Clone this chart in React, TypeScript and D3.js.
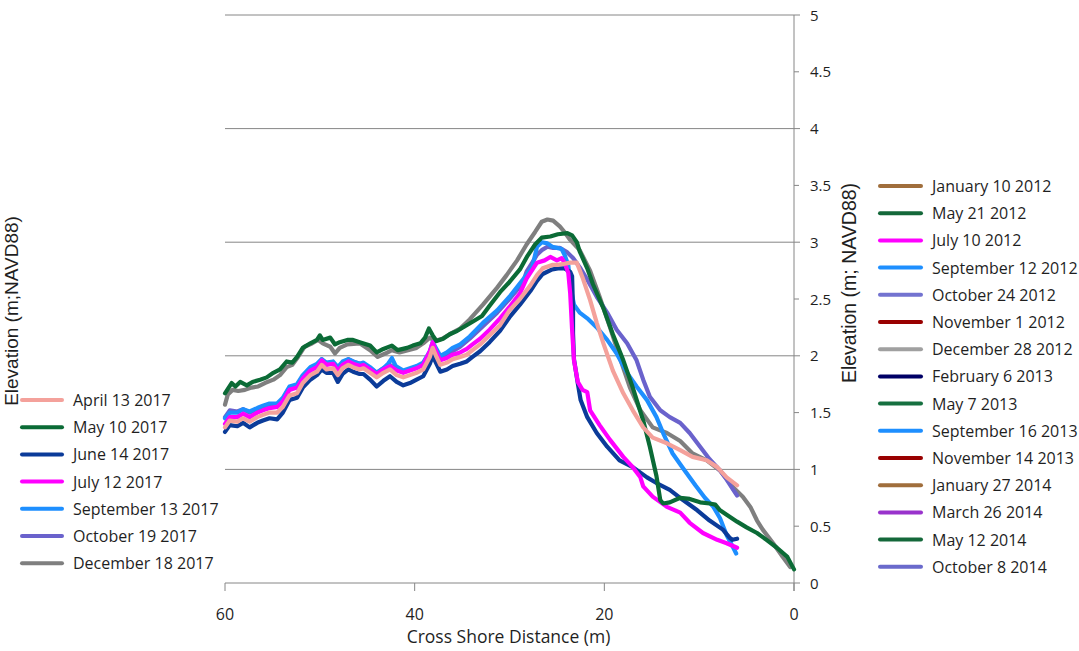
import React from "react";
import * as d3 from "d3";

// ---- Data (distance m, elevation m NAVD88) ----
const apr13_2017: [number, number][] = [[60,1.37],[59.5,1.43],[58.7,1.42],[58.1,1.45],[57.4,1.42],[56.6,1.46],[56,1.48],[55.3,1.5],[54.5,1.5],[53.9,1.55],[53.2,1.65],[52.4,1.67],[51.8,1.76],[51,1.83],[50.3,1.86],[49.8,1.92],[49.3,1.88],[48.6,1.89],[48.1,1.83],[47.6,1.89],[47,1.92],[46.5,1.9],[45.8,1.88],[45.4,1.89],[44.7,1.85],[44,1.81],[43.3,1.85],[42.6,1.88],[41.9,1.83],[41.2,1.81],[40.5,1.83],[39.8,1.85],[39.1,1.88],[38.4,1.99],[38.1,2.07],[37.7,1.99],[37.3,1.92],[36.6,1.94],[36,1.97],[35.2,1.99],[34.5,2.01],[33.9,2.05],[33.1,2.1],[32.1,2.18],[31,2.27],[30,2.4],[28.9,2.5],[27.8,2.62],[27.1,2.71],[26.5,2.77],[25.5,2.8],[24.9,2.8],[24.2,2.81],[23.6,2.82],[22.9,2.82],[22.3,2.69],[21.5,2.49],[20.8,2.29],[20.1,2.11],[19.1,1.87],[18,1.67],[17,1.52],[15.9,1.37],[14.9,1.28],[13.4,1.23],[12,1.17],[10.7,1.11],[9.2,1.08],[8.1,1.02],[7.1,0.93],[6,0.86]];

const may10_2017: [number, number][] = [[60,1.67],[59.3,1.76],[58.9,1.73],[58.4,1.77],[57.7,1.74],[57.1,1.77],[56.3,1.79],[55.6,1.81],[54.9,1.85],[54.2,1.88],[53.5,1.95],[52.9,1.94],[52.4,1.99],[51.8,2.07],[51,2.11],[50.3,2.14],[50,2.18],[49.7,2.14],[48.9,2.16],[48.4,2.1],[47.9,2.12],[47.1,2.14],[46.5,2.14],[45.8,2.12],[44.7,2.09],[44,2.03],[43.3,2.06],[42.4,2.09],[41.8,2.05],[40.8,2.07],[40.2,2.09],[39.4,2.11],[38.9,2.16],[38.5,2.24],[38.1,2.18],[37.7,2.13],[37,2.15],[36.3,2.19],[35.5,2.22],[34.7,2.26],[33.9,2.3],[32.9,2.35],[32.1,2.44],[31,2.56],[30,2.65],[28.9,2.76],[28.1,2.88],[27.3,2.98],[26.6,3.04],[25.7,3.05],[24.9,3.07],[23.9,3.08],[23.4,3.06],[22.9,3.0],[22.6,2.92],[21.8,2.77],[21.2,2.63],[20.1,2.42],[19.1,2.19],[18,1.96],[17,1.72],[15.9,1.43],[15.2,1.2],[14.5,0.94],[14.1,0.73],[13.8,0.7],[13.1,0.71],[12,0.75],[11,0.74],[9.9,0.71],[8.9,0.7],[8.3,0.69],[7.8,0.64],[7.1,0.6],[6,0.54],[5,0.49],[3.9,0.44],[2.9,0.38],[1.8,0.31],[0.7,0.23],[0,0.12]];

const jun14_2017: [number, number][] = [[60,1.33],[59.5,1.39],[58.7,1.38],[58.1,1.41],[57.4,1.37],[56.6,1.41],[56,1.43],[55.3,1.45],[54.5,1.44],[53.9,1.5],[53.2,1.61],[52.4,1.63],[51.8,1.72],[51,1.79],[50.3,1.83],[49.8,1.88],[49.3,1.85],[48.6,1.85],[48.1,1.77],[47.6,1.84],[47,1.88],[46.5,1.86],[45.8,1.84],[45.4,1.84],[44.7,1.79],[44,1.73],[43.3,1.78],[42.6,1.82],[41.9,1.77],[41.2,1.74],[40.5,1.76],[39.8,1.79],[39.1,1.82],[38.4,1.93],[38.1,2.0],[37.7,1.93],[37.3,1.86],[36.6,1.88],[36,1.91],[35.2,1.93],[34.5,1.95],[33.9,1.99],[33.1,2.04],[32.1,2.12],[31,2.22],[30,2.34],[28.9,2.45],[27.8,2.57],[27.1,2.66],[26.5,2.72],[25.5,2.76],[24.9,2.77],[24.2,2.77],[23.6,2.74],[23.4,2.7],[23.3,2.4],[23.3,2.2],[23.2,1.97],[22.8,1.76],[22.5,1.61],[21.8,1.46],[20.8,1.32],[19.7,1.2],[18.4,1.08],[17,1.02],[15.5,0.93],[14.5,0.88],[13.1,0.82],[11.7,0.73],[10.2,0.64],[8.9,0.55],[7.5,0.47],[6.8,0.4],[6.5,0.38],[6,0.39]];

const jul12_2017: [number, number][] = [[60,1.4],[59.5,1.46],[58.7,1.46],[58.1,1.49],[57.4,1.46],[56.6,1.5],[56,1.52],[55.3,1.54],[54.5,1.55],[53.9,1.6],[53.2,1.7],[52.4,1.72],[51.8,1.8],[51,1.87],[50.3,1.9],[49.8,1.96],[49.3,1.92],[48.6,1.93],[48.1,1.87],[47.6,1.92],[47,1.95],[46.5,1.93],[45.8,1.91],[45.4,1.92],[44.7,1.88],[44,1.84],[43.3,1.88],[42.6,1.91],[41.9,1.87],[41.2,1.85],[40.5,1.87],[39.8,1.89],[39.1,1.92],[38.4,2.04],[38.1,2.12],[37.7,2.03],[37.3,1.96],[36.6,1.98],[36,2.01],[35.2,2.03],[34.5,2.06],[33.9,2.1],[33.1,2.15],[32.1,2.23],[31,2.33],[30,2.43],[28.9,2.55],[28.2,2.68],[27.1,2.82],[26.3,2.84],[25.7,2.87],[25,2.84],[24.5,2.86],[24.2,2.82],[23.8,2.73],[23.6,2.55],[23.4,2.23],[23.2,1.96],[22.8,1.77],[22.3,1.7],[21.8,1.68],[21.5,1.52],[20.5,1.39],[19.4,1.26],[18,1.11],[17,1.02],[16.2,0.93],[15.9,0.85],[14.9,0.76],[13.4,0.67],[12,0.62],[11,0.53],[9.6,0.44],[8.1,0.38],[7.1,0.35],[6,0.31]];

const sep13_2017: [number, number][] = [[60,1.45],[59.5,1.5],[58.7,1.5],[58.1,1.53],[57.4,1.51],[56.6,1.54],[56,1.56],[55.3,1.58],[54.5,1.58],[53.9,1.63],[53.2,1.73],[52.4,1.75],[51.8,1.83],[51,1.9],[50.3,1.93],[49.8,1.97],[49.3,1.94],[48.6,1.95],[48.1,1.9],[47.6,1.95],[47,1.97],[46.5,1.95],[45.8,1.93],[45.4,1.94],[44.7,1.9],[44,1.85],[43.3,1.89],[42.8,1.93],[42.4,1.98],[42,1.91],[41.2,1.87],[40.5,1.89],[39.8,1.91],[39.1,1.94],[38.4,2.04],[38.1,2.12],[37.7,2.06],[37.3,2.0],[36.6,2.03],[36,2.07],[35.2,2.1],[34.2,2.17],[32.8,2.29],[31.3,2.4],[30,2.52],[28.6,2.67],[27.6,2.78],[27.1,2.96],[26.6,3.0],[26,2.99],[25.5,2.96],[25,2.95],[24.5,2.94],[24.2,2.89],[23.8,2.8],[23.6,2.62],[23.2,2.45],[22.6,2.38],[21.8,2.33],[20.8,2.25],[19.7,2.14],[18.7,2.02],[17.6,1.85],[16.6,1.73],[15.5,1.61],[14.5,1.46],[13.8,1.32],[12.8,1.14],[11.7,1.01],[10.4,0.86],[9.4,0.75],[8.5,0.67],[7.8,0.57],[7.1,0.42],[6.4,0.31],[6.1,0.26]];

const oct19_2017: [number, number][] = [[60,1.46],[59.5,1.52],[58.7,1.51],[58.1,1.53],[57.4,1.5],[56.6,1.53],[56,1.55],[55.3,1.57],[54.5,1.57],[53.9,1.62],[53.2,1.72],[52.4,1.74],[51.8,1.82],[51,1.89],[50.3,1.92],[49.8,1.97],[49.3,1.93],[48.6,1.94],[48.1,1.89],[47.6,1.94],[47,1.97],[46.5,1.95],[45.8,1.93],[45.4,1.93],[44.7,1.89],[44,1.85],[43.3,1.89],[42.6,1.92],[41.9,1.88],[41.2,1.86],[40.5,1.88],[39.8,1.9],[39.1,1.93],[38.4,2.03],[38.1,2.1],[37.7,2.03],[37.3,1.98],[36.6,2.0],[36,2.04],[35.2,2.08],[34.2,2.15],[32.8,2.26],[31.3,2.38],[30,2.5],[28.6,2.64],[28.2,2.74],[27.6,2.82],[27.1,2.89],[26.6,2.93],[26,2.96],[25.4,2.95],[24.7,2.95],[23.9,2.91],[23.3,2.86],[22.6,2.78],[21.8,2.67],[20.8,2.52],[19.7,2.38],[18.7,2.23],[17.6,2.11],[16.6,1.96],[15.9,1.79],[15.2,1.64],[14.1,1.52],[13.1,1.46],[12,1.41],[11,1.32],[9.9,1.2],[8.9,1.09],[7.8,0.99],[7.1,0.91],[6.4,0.82],[6,0.77]];

const dec18_2017: [number, number][] = [[60,1.57],[59.7,1.66],[59.2,1.7],[58.6,1.69],[57.9,1.7],[57.2,1.72],[56.5,1.73],[55.8,1.76],[54.9,1.79],[54.2,1.83],[53.5,1.9],[52.9,1.92],[52.3,1.99],[51.6,2.08],[50.8,2.11],[50.2,2.14],[49.7,2.11],[48.9,2.08],[48.4,2.02],[47.9,2.07],[47.1,2.1],[45.8,2.11],[44.7,2.05],[43.9,1.99],[43.1,2.02],[42.4,2.05],[41.6,2.03],[40.7,2.05],[39.8,2.07],[39.1,2.11],[38.4,2.16],[37.9,2.13],[37.1,2.15],[36.3,2.19],[35.2,2.24],[34.2,2.32],[32.8,2.45],[31.3,2.6],[30.3,2.71],[29.2,2.84],[28.2,2.98],[27.3,3.09],[26.6,3.18],[26,3.2],[25.4,3.19],[24.7,3.14],[24.2,3.09],[23.6,3.02],[22.6,2.93],[21.5,2.75],[20.5,2.52],[19.4,2.25],[18.4,1.99],[17.3,1.72],[16.2,1.52],[14.9,1.37],[13.4,1.32],[12,1.25],[10.7,1.14],[9.2,1.08],[7.8,0.99],[6.4,0.84],[5.4,0.76],[4.6,0.67],[3.9,0.55],[3.3,0.47],[2.2,0.35],[1.2,0.23],[0.4,0.14]];

// Plotted series (2017 surveys), legend order
const seriesNames2017 = ["April 13 2017", "May 10 2017", "June 14 2017", "July 12 2017", "September 13 2017", "October 19 2017", "December 18 2017"];
const seriesColors2017 = ["#F4A19B", "#0B6B36", "#0B3B99", "#FF00FF", "#1E8FFF", "#6A62CC", "#7F7F7F"];
const seriesData2017 = [apr13_2017, may10_2017, jun14_2017, jul12_2017, sep13_2017, oct19_2017, dec18_2017];
// drawing order (bottom first), indices into the arrays above
const drawOrder = [6, 5, 4, 2, 3, 1, 0];

// Second legend (2012-2014 surveys)
const legendNames2012 = ["January 10 2012", "May 21 2012", "July 10 2012", "September 12 2012", "October 24 2012", "November 1 2012", "December 28 2012", "February 6 2013", "May 7 2013", "September 16 2013", "November 14 2013", "January 27 2014", "March 26 2014", "May 12 2014", "October 8 2014"];
const legendColors2012 = ["#A06E3C", "#14683A", "#FF00FF", "#1E8FFF", "#7373D0", "#990000", "#A0A0A0", "#000066", "#167040", "#1E8FFF", "#990000", "#A06E3C", "#9933CC", "#14683A", "#6A6ACC"];

const xTicks = [60, 40, 20, 0];
const yMajorTicks = [0, 1, 2, 3, 4, 5];
const yMinorTicks = [0.5, 1.5, 2.5, 3.5, 4.5];

const W = 1079, H = 651;
const FONT = "'Open Sans', 'DejaVu Sans', sans-serif";
const ARIAL = "'Liberation Sans', Arial, sans-serif";

export default function App() {
  const x = d3.scaleLinear().domain([60, 0]).range([225, 794]);
  const y = d3.scaleLinear().domain([0, 5]).range([583, 15]);
  const line = d3.line<[number, number]>().x(d => x(d[0])).y(d => y(d[1])).curve(d3.curveLinear);

  const axisColor = "#868686";
  const textColor = "#1f1f1f";

  return (
    <svg width={W} height={H} style={{ position: "absolute", left: 0, top: 0, background: "#fff" }}>
      <rect x={0} y={0} width={W} height={H} fill="#fff" />
      {/* gridlines */}
      {yMajorTicks.filter(v => v > 0).map(v => (
        <line key={"g" + v} x1={x(60)} x2={x(0)} y1={y(v)} y2={y(v)} stroke={axisColor} strokeWidth={1} />
      ))}
      {/* x axis */}
      <line x1={x(60)} x2={x(0)} y1={y(0)} y2={y(0)} stroke={axisColor} strokeWidth={1} />
      {xTicks.map(t => (
        <g key={"xt" + t}>
          <line x1={x(t)} x2={x(t)} y1={y(0)} y2={y(0) + 8} stroke={axisColor} strokeWidth={1} />
          <text x={x(t)} y={y(0) + 37} textAnchor="middle" fontFamily={FONT} fontSize={16} fill={textColor}>{t}</text>
        </g>
      ))}
      <text x={(x(60) + x(0)) / 2 - 1} y={643} textAnchor="middle" fontFamily={FONT} fontSize={17.5} fill={textColor}>Cross Shore Distance (m)</text>
      {/* right y axis */}
      <line x1={x(0)} x2={x(0)} y1={y(5)} y2={y(0) + 8} stroke={axisColor} strokeWidth={1} />
      {yMajorTicks.map(v => (
        <g key={"yt" + v}>
          <line x1={x(0)} x2={x(0) + 6} y1={y(v)} y2={y(v)} stroke={axisColor} strokeWidth={1} />
          <text x={810} y={y(v) + 5.5} fontFamily={FONT} fontSize={15} fill={textColor}>{v}</text>
        </g>
      ))}
      {yMinorTicks.map(v => (
        <g key={"ym" + v}>
          <line x1={x(0)} x2={x(0) + 5} y1={y(v)} y2={y(v)} stroke={axisColor} strokeWidth={1} />
          <text x={810} y={y(v) + 5.5} fontFamily={FONT} fontSize={15} fill={textColor}>{v}</text>
        </g>
      ))}
      {/* axis titles */}
      <text transform={`translate(18,311) rotate(-90)`} textAnchor="middle" fontFamily={ARIAL} fontSize={19} fill={textColor}>Elevation (m;NAVD88)</text>
      <text transform={`translate(856,283) rotate(-90)`} textAnchor="middle" fontFamily={ARIAL} fontSize={19.5} fill={textColor}>Elevation (m; NAVD88)</text>

      {/* series */}
      {drawOrder.map(i => (
        <path key={"s" + i} d={line(seriesData2017[i]) || ""} fill="none" stroke={seriesColors2017[i]} strokeWidth={4.2} strokeLinejoin="round" strokeLinecap="round" />
      ))}

      {/* left legend */}
      {seriesNames2017.map((n, i) => (
        <g key={"l1" + i} transform={`translate(0,${400 + i * 27.2})`}>
          <line x1={22} x2={62} y1={0} y2={0} stroke={seriesColors2017[i]} strokeWidth={4} strokeLinecap="round" />
          <text x={73} y={6} fontFamily={FONT} fontSize={16} fill={textColor}>{n}</text>
        </g>
      ))}
      {/* right legend */}
      {legendNames2012.map((n, i) => (
        <g key={"l2" + i} transform={`translate(0,${186 + i * 27.2})`}>
          <line x1={880} x2={921} y1={0} y2={0} stroke={legendColors2012[i]} strokeWidth={4} strokeLinecap="round" />
          <text x={932} y={6} fontFamily={FONT} fontSize={16} fill={textColor}>{n}</text>
        </g>
      ))}
    </svg>
  );
}
